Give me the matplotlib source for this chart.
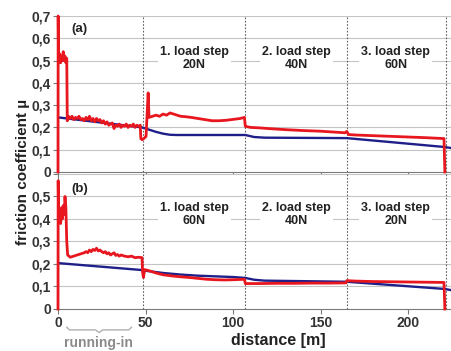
import matplotlib
matplotlib.use("Agg")
import matplotlib.pyplot as plt
import matplotlib.transforms as mtransforms

plt.rcParams['font.family'] = ['Liberation Sans', 'DejaVu Sans']

# (a) load steps 20N / 40N / 60N
top_red_x = [0, 0.1, 0.3, 1, 1.5, 2, 2.5, 3, 3.5, 4, 4.5, 5, 5.3, 6, 7, 8, 9, 10, 11, 12, 13, 14,
             15, 16, 17, 18, 19, 20, 21, 22, 23, 24, 25, 26, 27, 28, 29, 30, 31, 32, 33, 34, 35,
             36, 37, 38, 39, 40, 41, 42, 43, 44, 45, 46, 47, 47.3, 48, 49, 50.3, 50.8, 51.5, 52,
             54, 56, 58, 60, 62, 64, 66, 68, 70, 73, 76, 80, 84, 88, 92, 96, 100, 104, 106.5,
             107, 110, 115, 120, 130, 140, 150, 160, 164, 165, 166, 170, 180, 190, 200, 210,
             220.5, 221]
top_red_y = [0.0, 0.70, 0.50, 0.53, 0.49, 0.52, 0.50, 0.54, 0.50, 0.52, 0.49, 0.51, 0.23, 0.25,
             0.24, 0.25, 0.235, 0.245, 0.24, 0.25, 0.235, 0.24, 0.23, 0.245, 0.235, 0.25, 0.23,
             0.24, 0.225, 0.24, 0.23, 0.235, 0.22, 0.23, 0.215, 0.225, 0.21, 0.215, 0.22, 0.195,
             0.21, 0.205, 0.215, 0.20, 0.21, 0.205, 0.215, 0.20, 0.21, 0.205, 0.215, 0.20, 0.21,
             0.205, 0.21, 0.15, 0.145, 0.15, 0.16, 0.24, 0.355, 0.245,
             0.25, 0.255, 0.25, 0.26, 0.255, 0.265, 0.26, 0.255, 0.25, 0.248, 0.245, 0.24, 0.235,
             0.23, 0.23, 0.232, 0.236, 0.24, 0.245,
             0.205, 0.2, 0.198, 0.195, 0.19, 0.186, 0.183, 0.178, 0.176, 0.182, 0.168, 0.166,
             0.163, 0.16, 0.157, 0.154, 0.15, 0.0]
top_blue_x = [0, 48, 52, 56, 60, 64, 68, 107, 112, 118, 165, 221, 225]
top_blue_y = [0.245, 0.20, 0.19, 0.18, 0.172, 0.167, 0.166, 0.166, 0.157, 0.154, 0.152, 0.112, 0.107]

# (b) load steps 60N / 40N / 20N
bot_red_x = [0, 0.1, 0.4, 1, 1.5, 2, 2.5, 3, 3.5, 4, 4.5, 5, 5.5, 7, 9, 11, 13, 15, 16, 17, 18,
             19, 20, 21, 22, 23, 24, 25, 26, 27, 28, 29, 30, 31, 32, 33, 34, 35, 36, 38, 40, 42,
             44, 46, 48, 48.3, 48.8, 49.5, 52, 56, 60, 65, 70, 75, 80, 85, 90, 95, 100, 106.5,
             107, 115, 125, 135, 145, 155, 164.5, 165, 170, 180, 190, 200, 210, 220.5, 221]
bot_red_y = [0.0, 0.57, 0.40, 0.44, 0.38, 0.45, 0.40, 0.46, 0.42, 0.50, 0.45, 0.30, 0.24, 0.23,
             0.235, 0.24, 0.245, 0.25, 0.255, 0.25, 0.262, 0.255, 0.265, 0.26, 0.27, 0.258, 0.262,
             0.255, 0.25, 0.255, 0.245, 0.25, 0.24, 0.245, 0.25, 0.238, 0.242, 0.235, 0.24,
             0.235, 0.232, 0.235, 0.228, 0.23, 0.228, 0.165, 0.14, 0.175, 0.17, 0.16, 0.152,
             0.147, 0.143, 0.14, 0.136, 0.132, 0.13, 0.129, 0.13, 0.132,
             0.113, 0.113, 0.114, 0.114, 0.115, 0.115, 0.116, 0.126, 0.124, 0.122, 0.121, 0.12,
             0.119, 0.118, 0.0]
bot_blue_x = [0, 48, 50, 60, 70, 80, 90, 100, 107, 112, 118, 165, 221, 225]
bot_blue_y = [0.204, 0.173, 0.17, 0.16, 0.153, 0.148, 0.145, 0.142, 0.138, 0.13, 0.126, 0.121,
              0.089, 0.083]

step_edges = [48.5, 107, 165, 221.5]
step_centers = [78, 136, 193]
step_names = ['1. load step', '2. load step', '3. load step']
top_loads = ['20N', '40N', '60N']
bot_loads = ['60N', '40N', '20N']
yticks_top = [0, 0.1, 0.2, 0.3, 0.4, 0.5, 0.6, 0.7]
yticks_bot = [0, 0.1, 0.2, 0.3, 0.4, 0.5, 0.6]
xticks = [0, 50, 100, 150, 200]

red = '#e8161e'
blue = '#1f1f8a'
grid_c = '#c4c4c4'
spine_c = '#7a7a7a'

fig = plt.figure(figsize=(4.51, 3.51), dpi=100)
ax1 = fig.add_axes([0.1286, 0.510, 0.8714, 0.4444])
ax2 = fig.add_axes([0.1286, 0.1197, 0.8714, 0.3846])

panels = [(ax1, top_red_x, top_red_y, top_blue_x, top_blue_y, yticks_top, top_loads, '(a)', 0.64, 0.51),
          (ax2, bot_red_x, bot_red_y, bot_blue_x, bot_blue_y, yticks_bot, bot_loads, '(b)', 0.535, 0.42)]

for ax, rx, ry, bx, by, yt, loads, tag, tag_y, txt_y in panels:
    ax.set_xlim(0, 224.5)
    ax.set_ylim(0, yt[-1])
    ax.set_yticks(yt)
    ax.set_yticklabels([('%g' % v).replace('.', ',') for v in yt], fontweight='bold', fontsize=10)
    ax.set_xticks(xticks)
    for v in yt[1:]:
        ax.axhline(v, color=grid_c, lw=0.8, zorder=0)
    for e in step_edges:
        ax.axvline(e, color='#606060', lw=0.8, ls=(0, (1.5, 1.5)), zorder=1)
    for sp in ['top', 'right']:
        ax.spines[sp].set_visible(False)
    for sp in ['left', 'bottom']:
        ax.spines[sp].set_color(spine_c)
    ax.tick_params(colors=spine_c, labelcolor='#333333', length=3.5, width=0.8, pad=1.5)
    ax.plot(bx, by, color=blue, lw=1.7, zorder=3)
    ax.plot(rx, ry, color=red, lw=2.0, zorder=4, clip_on=False)
    ax.text(12.5, tag_y, tag, fontsize=9.5, fontweight='bold', color='#222222', ha='center', va='center')
    for c, name, load in zip(step_centers, step_names, loads):
        ax.text(c, txt_y, name + '\n' + load, fontsize=9, fontweight='bold', ha='center',
                va='center', color='#222222', linespacing=1.15,
                bbox=dict(facecolor='white', edgecolor='none', pad=1.5), zorder=5)

ax1.tick_params(labelbottom=False)
ax2.set_yticklabels([('%g' % v).replace('.', ',') for v in yticks_bot[:-1]] + [''],
                    fontweight='bold', fontsize=10)
ax2.set_xticklabels([str(v) for v in xticks], fontweight='bold', fontsize=10)

# running-in brace
trans = mtransforms.blended_transform_factory(ax2.transData, ax2.transAxes)
brace_x = [5, 6.5, 21.5, 23.5, 25.5, 40.5, 42]
brace_y = [-0.135, -0.155, -0.155, -0.175, -0.155, -0.155, -0.135]
ax2.plot(brace_x, brace_y, color='#b0b0b0', lw=1, transform=trans, clip_on=False)
ax2.text(23, -0.255, 'running-in', transform=trans, ha='center', va='center',
         fontsize=10, color='#8a8a8a', fontweight='bold')

ax2.set_xlabel('distance [m]', fontsize=11.5, fontweight='bold', color='#222222')
ax2.xaxis.set_label_coords(0.56, -0.175)
fig.text(0.052, 0.51, 'friction coefficient µ', rotation=90, ha='center', va='center',
         fontsize=11, fontweight='bold', color='#222222')

fig.savefig('out.png', dpi=100)
